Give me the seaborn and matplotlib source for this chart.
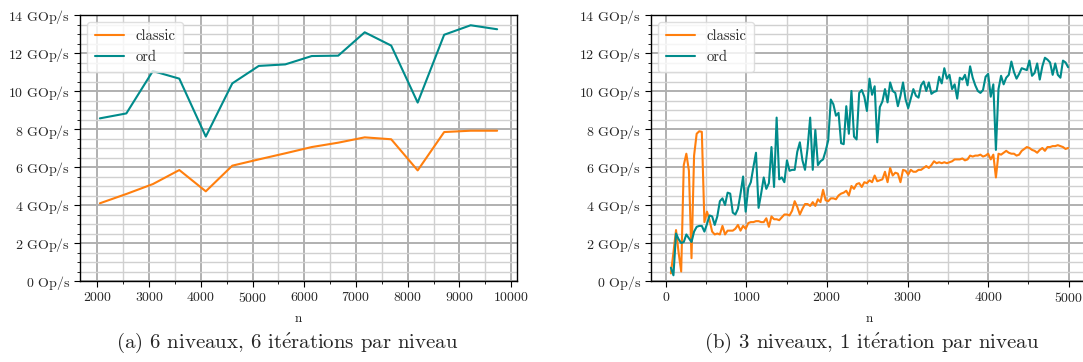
import numpy as np
import pandas as pd
import matplotlib
matplotlib.use("Agg")
import matplotlib.pyplot as plt
from matplotlib.ticker import EngFormatter, MultipleLocator
import seaborn as sns

# ---------------- data ----------------
# (a) 6 niveaux, 6 iterations
n_a = [2048, 2560, 3072, 3584, 4096, 4608, 5120, 5632,
       6144, 6656, 7168, 7680, 8192, 8704, 9216, 9728]
classic_a = [4.09, 4.58, 5.10, 5.84, 4.72, 6.07, 6.40, 6.72,
             7.05, 7.28, 7.56, 7.46, 5.82, 7.84, 7.91, 7.91]
ord_a = [8.56, 8.82, 11.05, 10.65, 7.60, 10.40, 11.32, 11.40,
         11.84, 11.86, 13.09, 12.39, 9.39, 12.96, 13.46, 13.25]

# (b) 3 niveaux, 1 iteration  (n = 64 .. 4992, step 32)
n_b = list(range(64, 5000, 32))
classic_b = [
    0.40, 1.50, 2.68, 1.50, 0.50, 6.10, 6.70, 5.80,   # 64..288
    1.20, 6.60, 7.75, 7.88, 7.85, 3.10, 3.65, 3.20,   # 320..544
    2.60, 2.45, 2.50, 2.45, 2.90, 2.45, 2.65, 2.65,   # 576..800
    2.65, 2.75, 2.95, 2.65, 2.90, 2.75, 3.05, 3.10,   # 832..1056
    3.10, 3.15, 3.15, 3.10, 3.10, 3.30, 2.85, 3.40,   # 1088..1312
    3.25, 3.25, 3.20, 3.35, 3.50, 3.50, 3.45, 3.70,   # 1344..1568
    4.20, 3.90, 3.50, 3.80, 4.05, 4.05, 3.95, 4.15,   # 1600..1824
    3.95, 4.30, 4.15, 4.80, 4.25, 4.20, 4.35, 4.35,   # 1856..2080
    4.30, 4.50, 4.60, 4.65, 4.75, 4.50, 5.00, 4.85,   # 2112..2336
    5.10, 5.15, 4.95, 5.20, 5.15, 5.30, 5.20, 5.55,   # 2368..2592
    5.25, 5.30, 5.35, 5.75, 5.20, 5.95, 5.55, 5.70,   # 2624..2848
    5.65, 5.20, 5.85, 5.80, 5.60, 5.85, 5.75, 5.75,   # 2880..3104
    5.85, 5.85, 5.95, 6.05, 5.95, 6.10, 6.30, 6.20,   # 3136..3360
    6.25, 6.20, 6.25, 6.20, 6.25, 6.30, 6.40, 6.40,   # 3392..3616
    6.40, 6.45, 6.35, 6.40, 6.60, 6.55, 6.60, 6.60,   # 3648..3872
    6.65, 6.55, 6.60, 6.70, 6.40, 6.65, 5.45, 6.70,   # 3904..4128
    6.65, 6.75, 6.85, 6.75, 6.70, 6.70, 6.60, 6.65,   # 4160..4384
    6.85, 6.95, 7.05, 7.00, 6.90, 6.85, 6.75, 6.90,   # 4416..4640
    7.00, 6.85, 7.05, 7.05, 7.10, 7.10, 7.15, 7.10,   # 4672..4896
    7.05, 6.95, 7.00,                                 # 4928..4992
]
ord_b = [
    0.70, 0.30, 2.50, 2.20, 2.00, 2.05, 2.45, 2.25,   # 64..288
    2.05, 2.60, 2.85, 2.90, 2.90, 2.60, 3.00, 3.45,   # 320..544
    3.40, 2.95, 3.40, 4.20, 4.35, 4.00, 4.65, 4.60,   # 576..800
    3.60, 3.50, 3.80, 4.60, 5.50, 3.65, 4.90, 5.20,   # 832..1056
    6.00, 6.75, 3.85, 4.60, 5.45, 4.85, 5.15, 7.05,   # 1088..1312
    4.95, 8.60, 5.35, 5.45, 5.20, 6.35, 5.80, 5.85,   # 1344..1568
    5.85, 6.80, 7.30, 6.35, 5.85, 7.00, 8.60, 5.85,   # 1600..1824
    7.95, 6.10, 6.30, 6.40, 6.85, 7.40, 9.55, 9.30,   # 1856..2080
    8.70, 8.85, 7.25, 7.20, 9.20, 7.75, 10.00, 7.60,  # 2112..2336
    7.45, 9.90, 10.05, 9.70, 8.95, 10.65, 9.80, 10.25,  # 2368..2592
    7.30, 9.15, 9.45, 10.10, 9.40, 10.45, 10.00, 9.90,  # 2624..2848
    9.20, 9.75, 10.45, 9.55, 9.10, 9.60, 10.10, 9.75,   # 2880..3104
    9.65, 10.30, 10.50, 10.00, 10.45, 9.85, 9.95, 10.00,  # 3136..3360
    10.75, 10.40, 11.20, 10.65, 10.85, 10.10, 10.35, 9.60,  # 3392..3616
    10.70, 10.60, 10.85, 10.30, 11.30, 10.70, 10.30, 10.00,  # 3648..3872
    9.90, 10.05, 10.75, 10.90, 9.70, 10.35, 6.90, 10.10,  # 3904..4128
    10.80, 10.35, 10.70, 10.85, 11.55, 11.00, 10.65, 10.90,  # 4160..4384
    11.20, 11.15, 11.10, 11.60, 10.80, 10.95, 11.45, 10.60,  # 4416..4640
    11.30, 11.75, 11.65, 11.50, 10.85, 11.45, 10.85, 10.70,  # 4672..4896
    11.60, 11.50, 11.25,                                      # 4928..4992
]

labels = ["classic", "ord"]
captions = [r"(a) 6 niveaux, 6 it$\acute{\mathrm{e}}$rations par niveau",
            r"(b) 3 niveaux, 1 it$\acute{\mathrm{e}}$ration par niveau"]


def make_df(n, c, o):
    return pd.DataFrame({
        "n": list(n) + list(n),
        "ops": [v * 1e9 for v in c] + [v * 1e9 for v in o],
        "algo": [labels[0]] * len(n) + [labels[1]] * len(n),
    })


df_a = make_df(n_a, classic_a, ord_a)
df_b = make_df(n_b, classic_b, ord_b)

# ---------------- style ----------------
sns.set_theme(style="white")
plt.rcParams["font.family"] = ["cmr10", "DejaVu Serif"]
plt.rcParams["axes.formatter.use_mathtext"] = True
plt.rcParams["mathtext.fontset"] = "cm"

palette = {"classic": "#ff7f0e", "ord": "#008b8b"}

W, H = 1083, 362
fig = plt.figure(figsize=(W / 100, H / 100), dpi=100)

ax_w = 437 / W
ax_h = 266 / H
ax_b = (H - 281) / H
axA = fig.add_axes([80 / W, ax_b, ax_w, ax_h])
axB = fig.add_axes([651 / W, ax_b, ax_w, ax_h])

for ax, df, cap, cx in [(axA, df_a, captions[0], 287 / W),
                        (axB, df_b, captions[1], 872 / W)]:
    sns.lineplot(data=df, x="n", y="ops", hue="algo", palette=palette,
                 linewidth=1.5, ax=ax)
    ax.set_ylim(0, 14e9)
    ax.yaxis.set_major_locator(MultipleLocator(2e9))
    ax.yaxis.set_minor_locator(MultipleLocator(0.5e9))
    ax.xaxis.set_major_locator(MultipleLocator(1000))
    ax.xaxis.set_minor_locator(MultipleLocator(500))
    ax.yaxis.set_major_formatter(EngFormatter(unit="Op/s"))
    ax.grid(True, which="major", color="#b0b0b0", linewidth=1.4)
    ax.grid(True, which="minor", color="#d0d0d0", linewidth=1.0)
    ax.set_axisbelow(True)
    for s in ax.spines.values():
        s.set_color("black")
        s.set_linewidth(1.0)
        s.set_visible(True)
    ax.tick_params(axis="both", which="major", direction="out", length=4,
                   width=0.8, color="black", labelsize=10, pad=3,
                   bottom=True, left=True)
    ax.tick_params(axis="both", which="minor", direction="out", length=2,
                   width=0.6, color="black", bottom=True, left=True)
    ax.set_xlabel("n", fontsize=9.5, labelpad=6)
    ax.set_ylabel("")
    leg = ax.legend(loc="upper left", fontsize=10.5, frameon=True,
                    fancybox=True, framealpha=0.8, edgecolor="#d8d8d8",
                    borderpad=0.5, labelspacing=0.5, handlelength=2.0)
    leg.set_title(None)
    fig.text(cx, 19 / H, cap, ha="center", va="center", fontsize=15)

fig.savefig("out.png", dpi=100)
